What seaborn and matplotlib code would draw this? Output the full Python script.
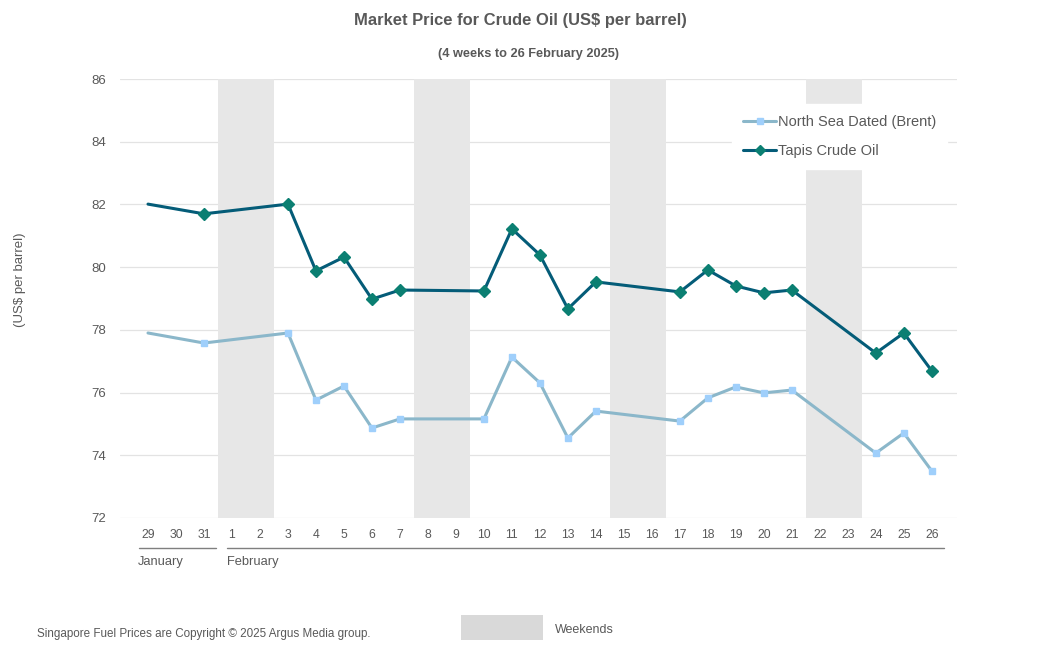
import matplotlib
matplotlib.use("Agg")
import matplotlib.pyplot as plt
import matplotlib.transforms as mtransforms
from matplotlib.patches import Rectangle
import numpy as np
import pandas as pd
import seaborn as sns

# Dias mostrados no eixo (29 Jan - 26 Fev 2025)
days = ['29', '30', '31', '1', '2', '3', '4', '5', '6', '7', '8', '9', '10', '11',
        '12', '13', '14', '15', '16', '17', '18', '19', '20', '21', '22', '23',
        '24', '25', '26']

# Precos (None = sem cotacao nesse dia)
brent = [77.90, None, 77.58, None, None, 77.90, 75.76, 76.21, 74.87, 75.16, None, None,
         75.16, 77.13, 76.31, 74.55, 75.41, None, None, 75.09, 75.83, 76.18, 75.99,
         76.08, None, None, 74.07, 74.71, 73.50]
tapis = [82.01, None, 81.70, None, None, 82.01, 79.88, 80.32, 78.98, 79.27, None, None,
         79.24, 81.22, 80.39, 78.67, 79.53, None, None, 79.21, 79.91, 79.40, 79.18,
         79.27, None, None, 77.26, 77.90, 76.69]

weekend_start = ['1', '8', '15', '22']

TEXT = '#595959'

sns.set_theme(style='white')
plt.rcParams['font.family'] = ['Liberation Sans', 'DejaVu Sans']

df = pd.DataFrame({'day': days, 'brent': brent, 'tapis': tapis})
df['pos'] = np.arange(len(days))

fig = plt.figure(figsize=(10.44, 6.62), dpi=100)
ax = fig.add_axes([120 / 1044, 1 - 518 / 662, (957 - 120) / 1044, (518 - 79) / 662])

# grelha
for v in range(72, 87, 2):
    ax.axhline(v, color='#e3e3e3', lw=0.9, zorder=0)

# fins de semana
for d in weekend_start:
    i = days.index(d)
    ax.axvspan(i - 0.5, i + 1.5, color='#e7e7e7', lw=0, zorder=1)

series = [
    ('brent', 'North Sea Dated (Brent)', '#8bb7ca', '#9fcffb', 's', 5),
    ('tapis', 'Tapis Crude Oil', '#045c78', '#0b7f72', 'D', 6.5),
]
for col, label, lc, mc, mk, ms in series:
    d = df.dropna(subset=[col])
    sns.lineplot(data=d, x='pos', y=col, color=lc, lw=2.2, ax=ax, zorder=3)
    # primeiro ponto sem marcador (como no original)
    ax.plot(d['pos'].iloc[1:], d[col].iloc[1:], ls='none', marker=mk, ms=ms,
            color=mc, mec=mc, zorder=4)
    ax.plot([], [], color=lc, lw=2.2, marker=mk, ms=ms - 1, mfc=mc, mec=mc, label=label)

ax.set_xlim(-1.0, 28.9)
ax.set_ylim(72, 86)
ax.set_yticks(range(72, 87, 2))
ax.set_xticks(df['pos'])
ax.set_xticklabels(days)
ax.tick_params(axis='x', length=0, pad=8, labelsize=8.8, labelcolor=TEXT)
ax.tick_params(axis='y', length=0, pad=10, labelsize=9.5, labelcolor=TEXT)
ax.set_xlabel('')
ax.set_ylabel('')
for s in ax.spines.values():
    s.set_visible(False)

# meses
trans = mtransforms.blended_transform_factory(ax.transData, ax.transAxes)
ax.plot([-0.32, 2.43], [-0.068, -0.068], color='#7f7f7f', lw=1, transform=trans, clip_on=False)
ax.plot([2.82, 28.43], [-0.068, -0.068], color='#7f7f7f', lw=1, transform=trans, clip_on=False)
ax.text(-0.36, -0.10, 'January', transform=trans, ha='left', va='center', fontsize=9.3, color=TEXT)
ax.text(2.82, -0.10, 'February', transform=trans, ha='left', va='center', fontsize=9.3, color=TEXT)

leg = ax.legend(loc='upper right', bbox_to_anchor=(947 / 1044, 1 - 104 / 662),
                bbox_transform=fig.transFigure, frameon=True, fancybox=False,
                facecolor='white', edgecolor='white', framealpha=1,
                fontsize=10.5, handlelength=2.3, handletextpad=0.1,
                labelspacing=1.05, borderpad=0.75, borderaxespad=0)
for t in leg.get_texts():
    t.set_color(TEXT)
leg.set_zorder(5)

fig.text(520 / 1044, 1 - 21 / 662, 'Market Price for Crude Oil (US$ per barrel)',
         ha='center', va='center', fontsize=11.9, fontweight='bold', color=TEXT)
fig.text(529 / 1044, 1 - 54 / 662, '(4 weeks to 26 February 2025)',
         ha='center', va='center', fontsize=9.2, fontweight='bold', color=TEXT)
fig.text(20 / 1044, 1 - 280 / 662, '(US$ per barrel)', rotation=90,
         ha='center', va='center', fontsize=9.5, color=TEXT)

fig.text(37 / 1044, 1 - 634 / 662, 'Singapore Fuel Prices are Copyright \u00a9 2025 Argus Media group.',
         ha='left', va='center', fontsize=8.4, color=TEXT)
fig.patches.append(Rectangle((461 / 1044, 1 - 640 / 662), 82 / 1044, 25 / 662,
                             transform=fig.transFigure, color='#d9d9d9', lw=0))
fig.text(555 / 1044, 1 - 630 / 662, 'Weekends', ha='left', va='center', fontsize=9, color=TEXT)

fig.savefig('out.png', dpi=100)
